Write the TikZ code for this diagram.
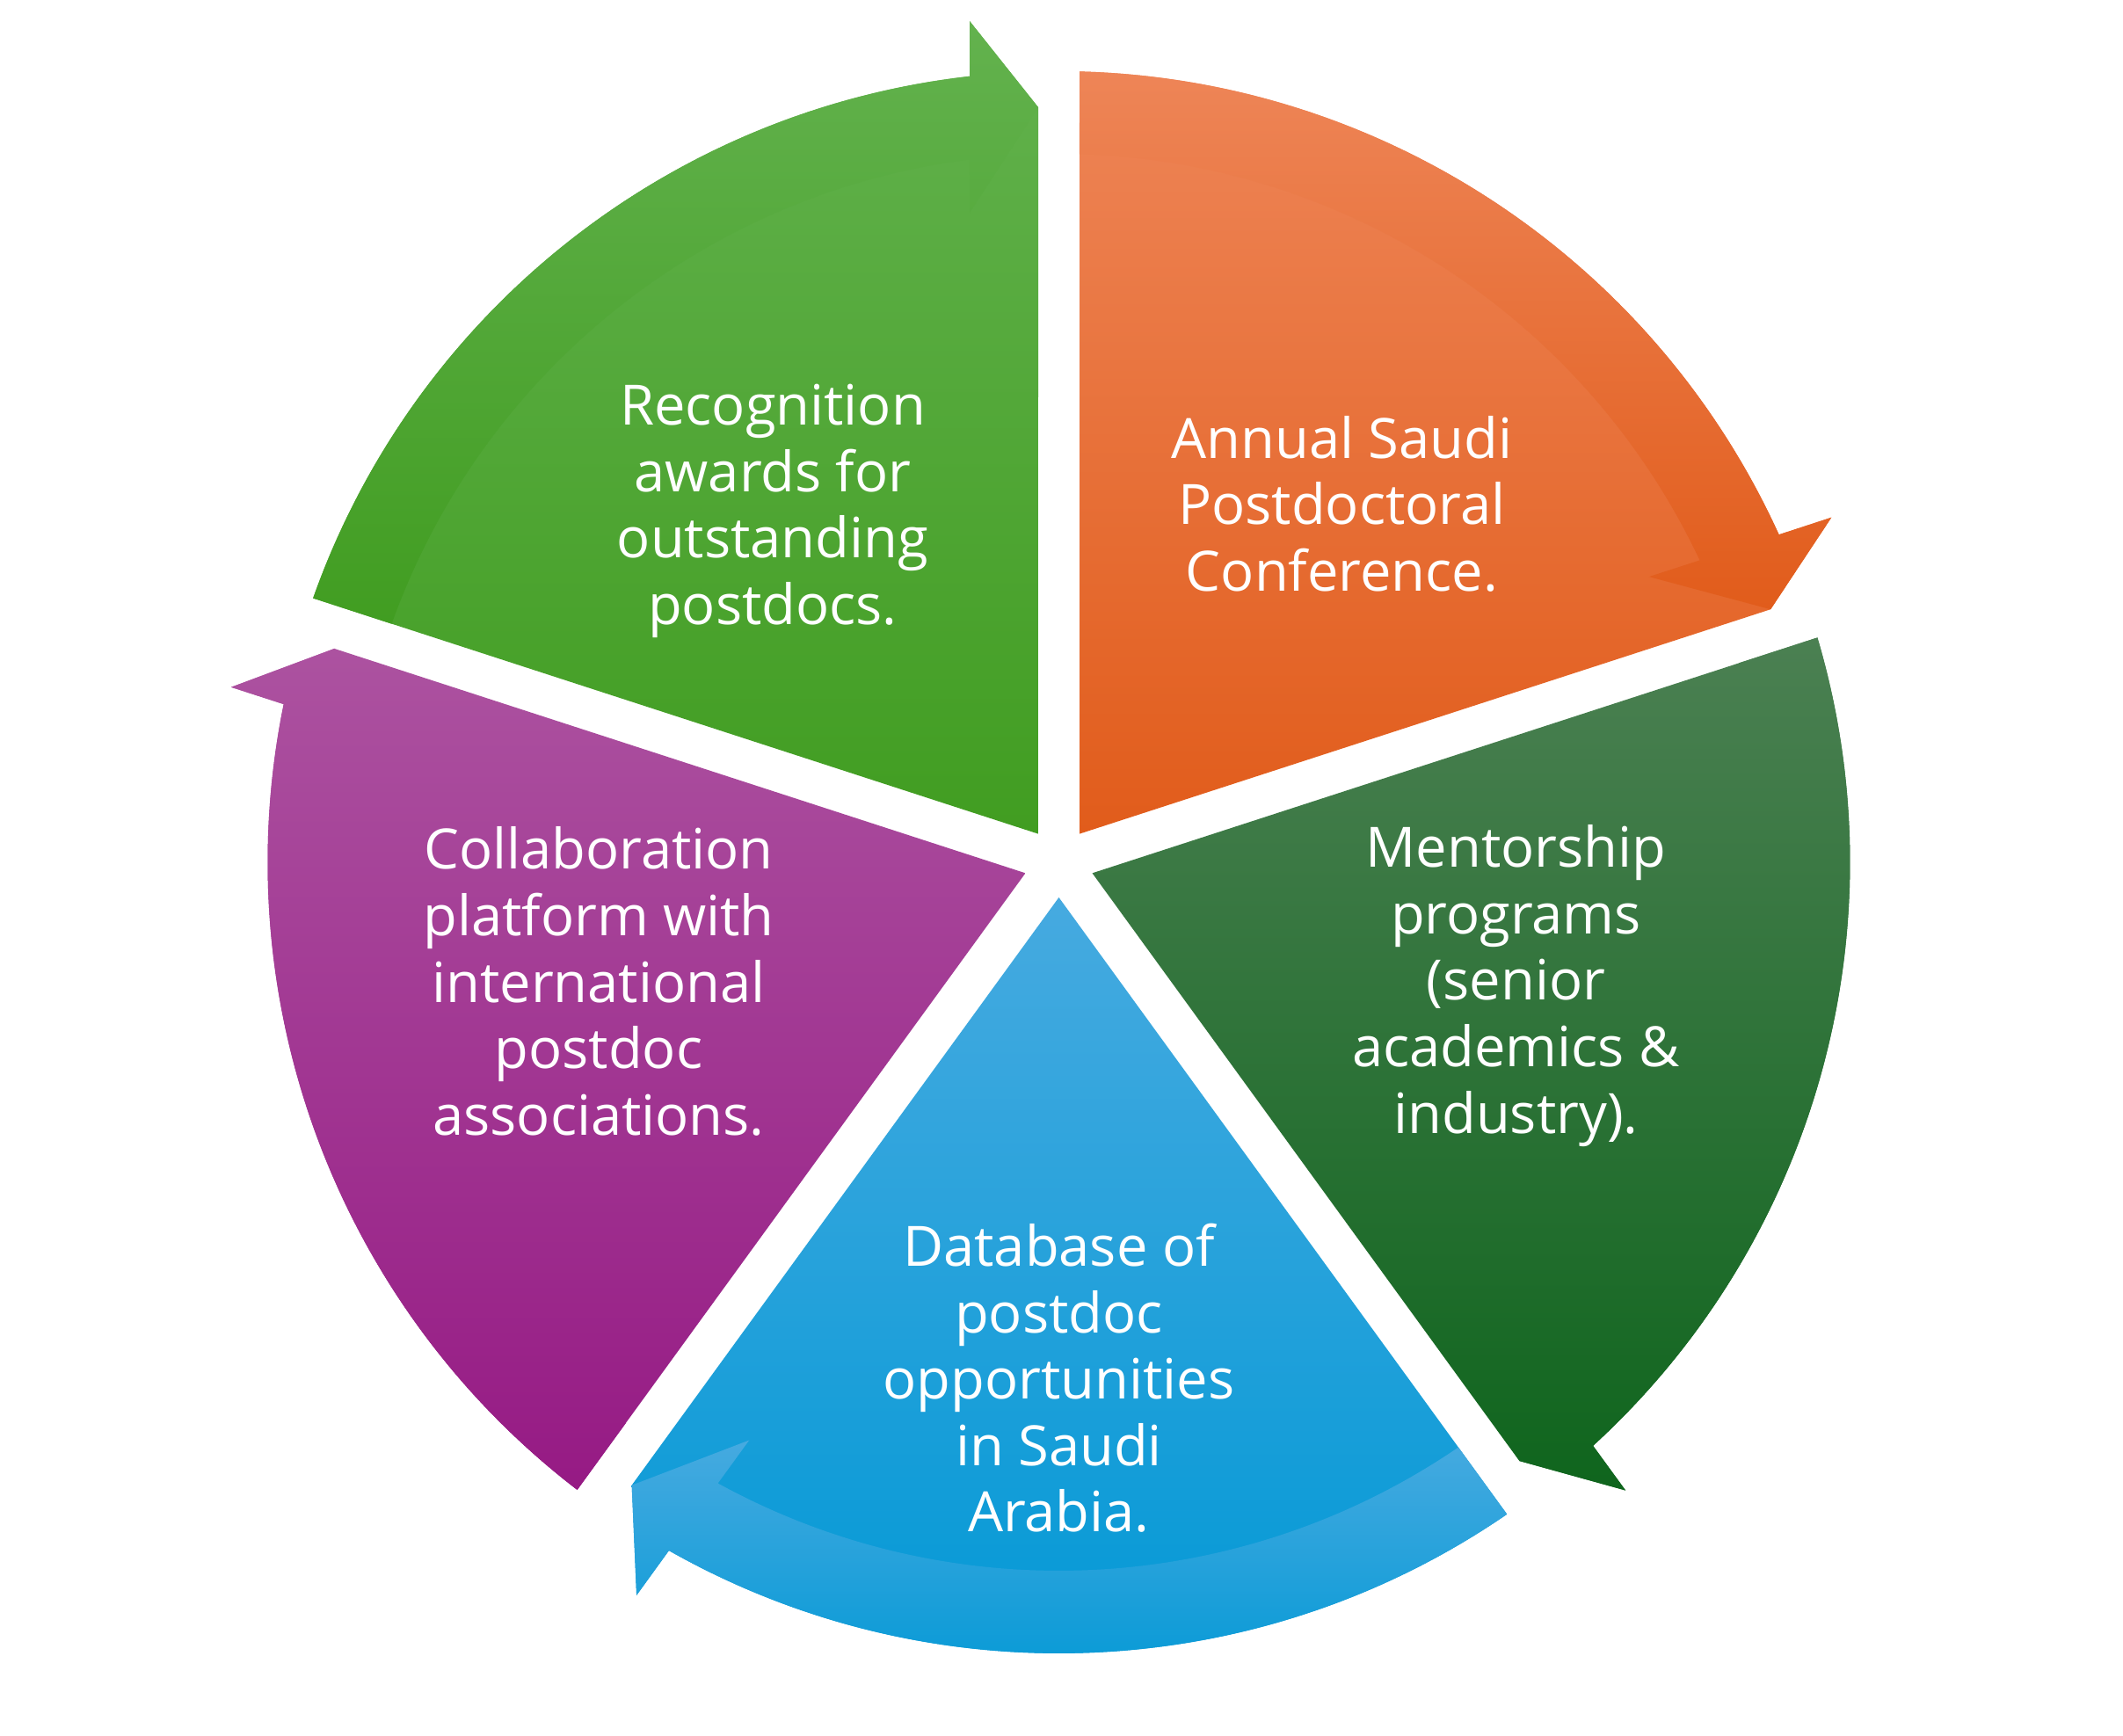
\documentclass[tikz,border=0pt]{standalone}
\usepackage{fontspec}
\setmainfont{Open Sans}
\usepackage{tikz}

\definecolor{orangetop}{RGB}{238,133,87}
\definecolor{orangemid}{RGB}{240,114,48}
\definecolor{orangebot}{RGB}{225,92,27}
\definecolor{greentop}{RGB}{99,178,78}
\definecolor{greenmid}{RGB}{78,171,46}
\definecolor{greenbot}{RGB}{65,157,33}
\definecolor{purpletop}{RGB}{172,82,160}
\definecolor{purplemid}{RGB}{164,44,148}
\definecolor{purplebot}{RGB}{150,26,132}
\definecolor{bluetop}{RGB}{70,170,224}
\definecolor{bluemid}{RGB}{4,158,219}
\definecolor{bluebot}{RGB}{0,152,213}
\definecolor{foresttop}{RGB}{75,128,82}
\definecolor{forestmid}{RGB}{34,112,44}
\definecolor{forestbot}{RGB}{15,101,29}

\begin{document}
\begin{tikzpicture}[
  segtext/.style={text=white, align=center, inner sep=0pt,
    font=\fontsize{18}{21.5}\selectfont}
]
\useasboundingbox (-12.045,-9.94) rectangle (12.105,9.81);

% five segments, each ends in an arrow tip (clockwise)
\foreach \e/\c in {18/orange, 90/green, 162/purple, 234/blue, 306/forest}{
\shade[top color=\c top, middle color=\c mid, bottom color=\c bot] (\e+36:0.40) -- (\e+1.567:8.593)
  -- (\e+6.054:9.624) -- (\e+6.47:9) arc[start angle=\e+6.47, end angle=\e+70.5, radius=9] -- cycle;
% outer band with its own shading
\shade[top color=\c top, middle color=\c mid, bottom color=\c bot] (\e+1.567:8.593) -- (\e+7.82:7.459)
  -- (\e+7.235:8.06) arc[start angle=\e+7.235, end angle=\e+70.33, radius=8.06]
  -- (\e+70.5:9) arc[start angle=\e+70.5, end angle=\e+6.47, radius=9]
  -- (\e+6.054:9.624) -- cycle;
}

\node[segtext] (recog) at (-3.255,3.995) {Recognition\\awards for\\outstanding\\postdocs.};
\node[segtext] (annual) at (3.22,4.08) {Annual Saudi\\Postdoctoral\\Conference.};
\node[segtext] (mentor) at (5.2,-1.405) {Mentorship\\programs\\(senior\\academics \&\\industry).};
\node[segtext] (database) at (0,-5.87) {Database of\\postdoc\\opportunities\\in Saudi\\Arabia.};
\node[segtext] (collab) at (-5.235,-1.355) {Collaboration\\platform with\\international\\postdoc\\associations.};
\end{tikzpicture}
\end{document}
